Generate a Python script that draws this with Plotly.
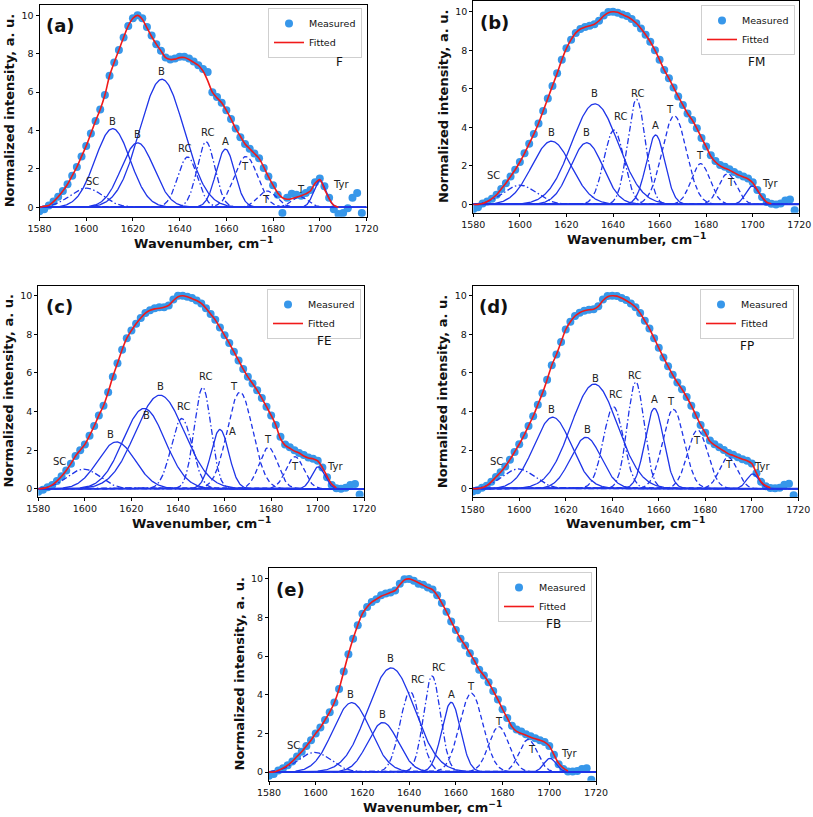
import numpy as np
import plotly.graph_objects as go

# ---------------- data ----------------
X_START = 1580          # first wavenumber of the measured / fitted arrays
X_STEP = 2              # spacing of the measured / fitted arrays, cm^-1

X_TICKS = [1580, 1600, 1620, 1640, 1660, 1680, 1700, 1720]
Y_TICKS = [0, 2, 4, 6, 8, 10]

COMPONENT_NAMES = ["SC", "B", "B", "B", "RC", "RC", "A", "T", "T", "T", "Tyr"]
COMPONENT_KIND = ["dashdot", "solid", "solid", "solid", "dashdot", "dashdot",
                  "solid", "dash", "dash", "dash", "solid"]

# (a) F
A_MEASURED = [-0.2, -0.1, 0.1, 0.3, 0.55, 0.85, 1.2, 1.65, 2.1, 2.65,
              3.2, 3.85, 4.5, 5.1, 5.85, 6.85, 7.55, 8.2, 8.85, 9.45,
              9.85, 10.0, 9.85, 9.4, 8.95, 8.5, 8.15, 7.8, 7.7, 7.75,
              7.85, 7.85, 7.75, 7.6, 7.4, 7.2, 7.05, 6.0, 5.75, 5.45,
              5.05, 4.6, 4.1, 3.65, 3.3, 3.05, 2.8, 2.55, 2.05, 1.6,
              1.15, 0.65, -0.3, 0.5, 0.7, 0.65, 0.6, 0.75, 0.9, 1.3,
              1.5, 1.1, 0.5, -0.1, -0.35, -0.3, -0.05, 0.5, 0.75, -0.3]
A_FITTED = [0.0, 0.05, 0.1, 0.3, 0.55, 0.85, 1.2, 1.65, 2.1, 2.65,
            3.2, 3.85, 4.5, 5.1, 5.85, 6.85, 7.55, 8.2, 8.85, 9.45,
            9.85, 10.0, 9.8, 9.35, 8.9, 8.5, 8.15, 7.8, 7.7, 7.72,
            7.8, 7.8, 7.7, 7.55, 7.4, 7.1, 6.6, 6.0, 5.7, 5.45,
            5.05, 4.6, 4.1, 3.7, 3.3, 3.05, 2.8, 2.55, 2.1, 1.6,
            1.15, 0.75, 0.5, 0.42, 0.45, 0.52, 0.6, 0.7, 0.85, 1.25,
            1.45, 0.95, 0.45, 0.1, 0.0]
A_CENTERS = [1600, 1611.3, 1622, 1632.4, 1643.4, 1651.3, 1659.6, 1668.4, 1677.4, 1691.5, 1700]
A_HEIGHTS = [1.0, 4.1, 3.36, 6.67, 2.62, 3.41, 3.03, 2.65, 0.85, 0.55, 1.4]
A_SIGMAS = [7, 7.5, 7, 9.5, 4.2, 3.8, 4, 5, 4, 3.5, 2.6]
A_LABEL_X = [1602.7, 1611.3, 1622, 1632.4, 1642.1, 1652, 1659.7, 1668.1, 1677, 1692, 1708.9]
A_LABEL_Y = [1.32, 4.45, 3.8, 7.05, 3.05, 3.88, 3.43, 2.15, 0.38, 0.95, 1.21]
A_SAMPLE = ("F", 1708.6, 7.57)

# (b) FM
B_MEASURED = [-0.25, -0.15, 0.05, 0.15, 0.3, 0.5, 0.8, 1.1, 1.45, 1.8,
              2.2, 2.65, 3.15, 3.65, 4.2, 4.85, 5.5, 6.15, 6.8, 7.5,
              8.1, 8.55, 8.9, 9.1, 9.2, 9.27, 9.35, 9.53, 9.8, 9.98,
              10.0, 9.95, 9.85, 9.78, 9.62, 9.4, 9.13, 8.8, 8.44, 8.0,
              7.5, 6.97, 6.54, 6.07, 5.6, 5.16, 4.72, 4.38, 3.95, 3.45,
              3.0, 2.55, 2.25, 2.05, 1.95, 1.82, 1.68, 1.55, 1.45, 1.35,
              1.15, 0.75, 0.38, 0.12, 0.03, 0.0, 0.05, 0.2, 0.25, -0.3]
B_FITTED = [0.0, 0.0, 0.05, 0.15, 0.3, 0.5, 0.8, 1.1, 1.45, 1.8,
            2.2, 2.65, 3.15, 3.65, 4.2, 4.85, 5.5, 6.15, 6.8, 7.5,
            8.1, 8.55, 8.9, 9.1, 9.2, 9.27, 9.35, 9.53, 9.78, 9.95,
            10.0, 9.97, 9.85, 9.75, 9.6, 9.4, 9.13, 8.8, 8.44, 8.0,
            7.5, 6.97, 6.54, 6.07, 5.6, 5.16, 4.72, 4.38, 3.95, 3.45,
            3.0, 2.5, 2.2, 2.0, 1.88, 1.78, 1.65, 1.52, 1.42, 1.32,
            1.12, 0.75, 0.38, 0.12, 0.03]
B_CENTERS = [1600, 1613.6, 1628.7, 1632.2, 1640.4, 1650.1, 1658.3, 1666.3, 1677.6, 1689.2, 1699.8]
B_HEIGHTS = [1.0, 3.28, 3.2, 5.22, 3.86, 5.45, 3.6, 4.6, 2.12, 1.6, 0.95]
B_SIGMAS = [7, 8.5, 7, 10, 4.3, 3.8, 4, 5.2, 4, 3.8, 2.8]
B_LABEL_X = [1588.6, 1613.4, 1628.8, 1632, 1643, 1650.4, 1658.3, 1664.5, 1677.3, 1690.6, 1707.4]
B_LABEL_Y = [1.52, 3.72, 3.72, 5.73, 4.55, 5.76, 4.08, 4.9, 2.56, 1.12, 1.1]
B_SAMPLE = ("FM", 1701.7, 7.4)

# (c) FE
C_MEASURED = [-0.15, -0.05, 0.08, 0.2, 0.4, 0.65, 0.95, 1.3, 1.7, 2.0,
              2.3, 2.75, 3.25, 3.8, 4.3, 5.0, 5.8, 6.5, 7.2, 7.8,
              8.2, 8.55, 8.85, 9.1, 9.25, 9.35, 9.4, 9.4, 9.5, 9.8,
              10.0, 10.0, 9.95, 9.88, 9.75, 9.6, 9.35, 9.05, 8.75, 8.35,
              7.95, 7.55, 7.1, 6.65, 6.2, 5.8, 5.45, 5.1, 4.7, 4.25,
              3.8, 3.3, 2.7, 2.3, 2.15, 2.0, 1.85, 1.75, 1.62, 1.55,
              1.45, 1.1, 0.6, 0.2, 0.03, 0.0, 0.05, 0.2, 0.25, -0.3]
C_FITTED = [0.0, 0.02, 0.08, 0.2, 0.4, 0.65, 0.95, 1.3, 1.7, 2.0,
            2.3, 2.75, 3.25, 3.8, 4.3, 5.0, 5.8, 6.5, 7.2, 7.8,
            8.2, 8.55, 8.85, 9.1, 9.25, 9.32, 9.35, 9.4, 9.5, 9.75,
            9.95, 10.0, 9.95, 9.85, 9.75, 9.6, 9.35, 9.05, 8.75, 8.35,
            7.95, 7.55, 7.1, 6.65, 6.2, 5.8, 5.45, 5.1, 4.7, 4.25,
            3.8, 3.3, 2.6, 2.25, 2.1, 1.95, 1.85, 1.7, 1.6, 1.55,
            1.45, 1.1, 0.65, 0.25, 0.05]
C_CENTERS = [1599.5, 1613.6, 1625.4, 1632.2, 1641.6, 1650.6, 1658, 1666.6, 1678.8, 1690.2, 1700.2]
C_HEIGHTS = [1.02, 2.43, 4.16, 4.85, 3.64, 5.25, 3.07, 5.0, 2.14, 1.66, 1.14]
C_SIGMAS = [7, 8, 9, 10.5, 4.5, 3.6, 3.8, 5.5, 4, 3.8, 2.8]
C_LABEL_X = [1589, 1611.2, 1626.5, 1632.5, 1642.4, 1651.6, 1663.2, 1664.2, 1678.8, 1690.2, 1707.4]
C_LABEL_Y = [1.4, 2.8, 3.78, 5.28, 4.25, 5.8, 2.99, 5.32, 2.56, 1.14, 1.17]
C_SAMPLE = ("FE", 1702.7, 7.65)

# (d) FP
D_MEASURED = [-0.15, -0.08, 0.05, 0.15, 0.35, 0.6, 0.85, 1.15, 1.5, 1.9,
              2.3, 2.75, 3.25, 3.75, 4.35, 4.95, 5.65, 6.4, 6.95, 7.6,
              8.25, 8.65, 8.95, 9.12, 9.22, 9.27, 9.3, 9.45, 9.8, 9.98,
              10.0, 9.98, 9.88, 9.78, 9.6, 9.4, 9.1, 8.7, 8.3, 7.8,
              7.3, 6.8, 6.35, 5.9, 5.5, 5.15, 4.75, 4.3, 3.8, 3.3,
              2.9, 2.5, 2.3, 2.15, 2.0, 1.85, 1.75, 1.62, 1.52, 1.45,
              1.3, 0.8, 0.35, 0.12, 0.03, 0.02, 0.05, 0.2, 0.25, -0.35]
D_FITTED = [0.0, 0.0, 0.05, 0.15, 0.35, 0.6, 0.85, 1.15, 1.5, 1.9,
            2.3, 2.75, 3.25, 3.75, 4.35, 4.95, 5.65, 6.4, 6.95, 7.6,
            8.25, 8.65, 8.95, 9.12, 9.22, 9.27, 9.3, 9.45, 9.75, 9.95,
            10.0, 9.98, 9.88, 9.75, 9.6, 9.4, 9.1, 8.7, 8.3, 7.8,
            7.3, 6.8, 6.35, 5.9, 5.5, 5.15, 4.75, 4.3, 3.8, 3.3,
            2.9, 2.45, 2.25, 2.1, 1.95, 1.8, 1.72, 1.62, 1.52, 1.45,
            1.3, 0.8, 0.35, 0.15, 0.05]
D_CENTERS = [1599.6, 1614.4, 1628.7, 1632.3, 1640.5, 1650.1, 1658.1, 1666.3, 1676.7, 1689.9, 1700.4]
D_HEIGHTS = [1.02, 3.7, 2.66, 5.42, 4.25, 5.53, 4.16, 4.11, 3.04, 1.62, 0.76]
D_SIGMAS = [7, 8, 6.5, 10, 4.3, 3.6, 4, 4.6, 4.3, 3.8, 2.6]
D_LABEL_X = [1590.3, 1614, 1629.4, 1632.6, 1641.5, 1649.5, 1658.1, 1665.1, 1676.3, 1690.2, 1704.2]
D_LABEL_Y = [1.43, 4.08, 3.04, 5.72, 4.9, 5.87, 4.63, 4.54, 2.52, 1.23, 1.14]
D_SAMPLE = ("FP", 1697.8, 7.39)

# (e) FB
E_MEASURED = [-0.2, -0.1, 0.08, 0.2, 0.35, 0.55, 0.8, 1.05, 1.35, 1.65,
              2.0, 2.3, 2.7, 3.1, 3.6, 4.3, 5.2, 6.1, 6.9, 7.6,
              8.2, 8.55, 8.8, 8.95, 9.15, 9.25, 9.3, 9.4, 9.75, 9.98,
              10.0, 9.9, 9.75, 9.7, 9.55, 9.45, 9.15, 8.75, 8.3, 7.8,
              7.35, 6.9, 6.55, 6.15, 5.75, 5.3, 5.0, 4.65, 4.2, 3.75,
              3.25, 2.8, 2.4, 2.2, 2.1, 1.95, 1.85, 1.75, 1.65, 1.55,
              1.35, 0.9, 0.4, 0.15, 0.03, 0.02, 0.05, 0.15, 0.2, -0.4]
E_FITTED = [0.0, 0.0, 0.08, 0.2, 0.35, 0.55, 0.8, 1.05, 1.35, 1.65,
            2.0, 2.3, 2.7, 3.1, 3.6, 4.3, 5.2, 6.1, 6.9, 7.6,
            8.2, 8.55, 8.8, 8.95, 9.1, 9.2, 9.3, 9.4, 9.7, 9.95,
            10.0, 9.92, 9.8, 9.68, 9.55, 9.45, 9.15, 8.75, 8.3, 7.8,
            7.35, 6.9, 6.55, 6.15, 5.75, 5.3, 5.0, 4.65, 4.2, 3.75,
            3.25, 2.8, 2.35, 2.1, 2.0, 1.9, 1.8, 1.72, 1.65, 1.55,
            1.35, 0.9, 0.45, 0.2, 0.05]
E_CENTERS = [1599.5, 1615.4, 1628.8, 1632.3, 1640.4, 1649.8, 1658, 1666.6, 1678.4, 1691, 1700.3]
E_HEIGHTS = [1.02, 3.59, 2.56, 5.39, 4.16, 4.97, 3.61, 4.08, 2.35, 1.69, 0.71]
E_SIGMAS = [7, 8, 6.5, 10, 4.3, 3.6, 4, 5, 4.3, 3.8, 2.6]
E_LABEL_X = [1590.7, 1615.1, 1628.4, 1632, 1643.7, 1652.5, 1658, 1666.6, 1678.4, 1692.8, 1708.6]
E_LABEL_Y = [1.36, 3.99, 3.0, 5.89, 4.77, 5.42, 3.99, 4.42, 2.61, 1.17, 0.97]
E_SAMPLE = ("FB", 1702, 7.65)

PANEL_LETTERS = ["(a)", "(b)", "(c)", "(d)", "(e)"]

# ---------------- layout / style ----------------
FIG_W, FIG_H = 813, 817
FONT = "DejaVu Sans"
BLUE = "#1f35e8"
DOT = "#3797ea"
RED = "#f01a1a"
DASHES = {"solid": "solid", "dash": "5px,3px", "dashdot": "6px,2.5px,1.5px,2.5px"}

# pixel boxes (left, top, right, bottom), y-range, legend top-right px
BOXES = [(39.5, 5.0, 366.5, 216.7), (473.3, 0.7, 799.3, 212.7),
         (38.3, 285.7, 364.3, 496.7), (472.7, 285.7, 798.3, 497.3),
         (269.0, 568.3, 596.0, 780.7)]
YRANGES = [(-0.49, 10.54), (-0.43, 10.57), (-0.41, 10.52), (-0.45, 10.52), (-0.45, 10.55)]
LEGEND_POS = [(362, 8), (795, 5), (361, 289), (794, 289), (592, 572)]

PANELS = [
    (A_MEASURED, A_FITTED, A_CENTERS, A_HEIGHTS, A_SIGMAS, A_LABEL_X, A_LABEL_Y, A_SAMPLE),
    (B_MEASURED, B_FITTED, B_CENTERS, B_HEIGHTS, B_SIGMAS, B_LABEL_X, B_LABEL_Y, B_SAMPLE),
    (C_MEASURED, C_FITTED, C_CENTERS, C_HEIGHTS, C_SIGMAS, C_LABEL_X, C_LABEL_Y, C_SAMPLE),
    (D_MEASURED, D_FITTED, D_CENTERS, D_HEIGHTS, D_SIGMAS, D_LABEL_X, D_LABEL_Y, D_SAMPLE),
    (E_MEASURED, E_FITTED, E_CENTERS, E_HEIGHTS, E_SIGMAS, E_LABEL_X, E_LABEL_Y, E_SAMPLE),
]


def px_x(v):
    return v / FIG_W


def px_y(v):
    return 1 - v / FIG_H


fig = go.Figure()
annotations = []
layout = dict(
    width=FIG_W, height=FIG_H,
    margin=dict(l=0, r=0, t=0, b=0, pad=0, autoexpand=False),
    paper_bgcolor="white", plot_bgcolor="white",
    font=dict(family=FONT, color="#111111"),
)

grid = np.linspace(X_TICKS[0], X_TICKS[-1], 561)

for i, (meas, fit, cen, hei, sig, lx, ly, sample) in enumerate(PANELS):
    n = i + 1
    sfx = "" if n == 1 else str(n)
    xref, yref = "x" + sfx, "y" + sfx
    leg = "legend" + sfx
    x_meas = [X_START + X_STEP * k for k in range(len(meas))]
    x_fit = [X_START + X_STEP * k for k in range(len(fit))]

    fig.add_trace(go.Scatter(
        x=x_meas, y=meas, mode="markers", name="Measured",
        marker=dict(color=DOT, size=8, line=dict(width=0)),
        xaxis=xref, yaxis=yref, legend=leg, legendrank=1, hoverinfo="skip"))

    for c, h, s, kind in zip(cen, hei, sig, COMPONENT_KIND):
        yv = h * np.exp(-((grid - c) ** 2) / (2 * s ** 2))
        fig.add_trace(go.Scatter(
            x=grid, y=yv, mode="lines", showlegend=False,
            line=dict(color=BLUE, width=1.3, dash=DASHES[kind]),
            xaxis=xref, yaxis=yref, hoverinfo="skip"))

    fig.add_trace(go.Scatter(
        x=grid, y=np.zeros_like(grid), mode="lines", showlegend=False,
        line=dict(color=BLUE, width=1.5),
        xaxis=xref, yaxis=yref, hoverinfo="skip"))

    fig.add_trace(go.Scatter(
        x=x_fit, y=fit, mode="lines", name="Fitted",
        line=dict(color=RED, width=1.6, shape="spline", smoothing=0.8),
        xaxis=xref, yaxis=yref, legend=leg, legendrank=2, hoverinfo="skip"))

    l, t, r, b = BOXES[i]
    common = dict(ticks="outside", ticklen=3, tickwidth=1, tickcolor="black",
                  showline=True, linecolor="black", linewidth=1, mirror=True,
                  showgrid=False, zeroline=False, automargin=False,
                  tickfont=dict(size=9.5, family=FONT, color="#111"))
    layout["xaxis" + sfx] = dict(domain=[px_x(l), px_x(r)], anchor=yref,
                                 range=[X_TICKS[0], X_TICKS[-1]], tickvals=X_TICKS, **common)
    layout["yaxis" + sfx] = dict(domain=[px_y(b), px_y(t)], anchor=xref,
                                 range=list(YRANGES[i]), tickvals=Y_TICKS, **common)

    lgx, lgy = LEGEND_POS[i]
    layout[leg] = dict(
        x=px_x(lgx), y=px_y(lgy), xref="container", yref="container",
        xanchor="right", yanchor="top",
        bgcolor="rgba(255,255,255,0.9)", bordercolor="#cfcfcf", borderwidth=1,
        font=dict(size=9.5, family=FONT, color="#111"), tracegroupgap=0, itemwidth=30)

    # component labels
    for name, x0, y0 in zip(COMPONENT_NAMES, lx, ly):
        annotations.append(dict(x=x0, y=y0, xref=xref, yref=yref, text=name,
                                showarrow=False, font=dict(size=10, family=FONT, color="#222")))
    annotations.append(dict(x=sample[1], y=sample[2], xref=xref, yref=yref, text=sample[0],
                            showarrow=False, font=dict(size=12, family=FONT, color="#111")))
    annotations.append(dict(x=1589, y=9.45, xref=xref, yref=yref,
                            text="<b>" + PANEL_LETTERS[i] + "</b>",
                            showarrow=False, font=dict(size=18, family=FONT, color="#111")))
    # axis titles
    annotations.append(dict(x=px_x((l + r) / 2), y=px_y(b + 26), xref="paper", yref="paper",
                            text="<b>Wavenumber, cm<sup>\u22121</sup></b>", showarrow=False,
                            font=dict(size=13, family=FONT, color="#111"),
                            xanchor="center", yanchor="middle"))
    annotations.append(dict(x=px_x(l - 30), y=px_y((t + b) / 2), xref="paper", yref="paper",
                            text="<b>Normalized intensity, a. u.</b>", showarrow=False,
                            textangle=-90, font=dict(size=13, family=FONT, color="#111"),
                            xanchor="center", yanchor="middle"))

layout["annotations"] = annotations
fig.update_layout(**layout)
# the page's default 8px body margin would shift the figure; remove it
fig.write_html("out.html",
               config={"displayModeBar": False},
               post_script="document.body.style.margin='0px';document.body.style.overflow='hidden';")
